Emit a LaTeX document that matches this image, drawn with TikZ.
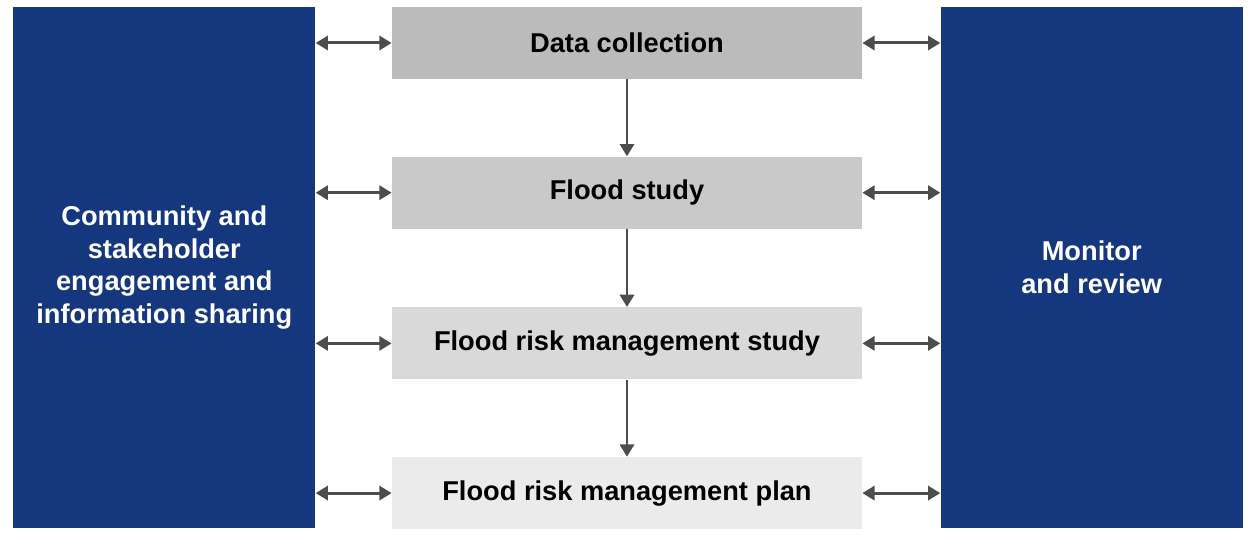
\documentclass[tikz,border=0pt]{standalone}
\usepackage{fontspec}
\setmainfont{Liberation Sans}
\usetikzlibrary{positioning,arrows.meta}

\definecolor{floodBlue}{HTML}{14377D}
\definecolor{stageOne}{HTML}{BBBBBB}
\definecolor{stageTwo}{HTML}{C9C9C9}
\definecolor{stageThree}{HTML}{D9D9D9}
\definecolor{stageFour}{HTML}{EBEBEB}
\definecolor{linkGrey}{HTML}{4D4D4D}

\tikzset{
  stagebox/.style={rectangle, minimum width=9.4cm, minimum height=1.44cm,
    inner sep=0pt, font=\fontsize{15.5}{18}\selectfont\bfseries},
  sidebox/.style={rectangle, fill=floodBlue, text=white, minimum width=6.04cm,
    minimum height=10.42cm, inner sep=0pt, align=center,
    font=\fontsize{15.5}{18.5}\selectfont\bfseries},
  link/.style={linkGrey, line width=1.7pt, -{Triangle[length=7pt,width=8pt]}},
  twoway/.style={linkGrey, line width=1.7pt,
    {Triangle[length=7pt,width=8pt]}-{Triangle[length=7pt,width=8pt]}}
}

\begin{document}
\begin{tikzpicture}
  \useasboundingbox (-12.54,0.86) rectangle (12.56,-9.92);

  % the four stages
  \node[stagebox, fill=stageOne] (data) at (0,0) {Data collection};
  \node[stagebox, fill=stageTwo, below=1.54cm of data] (study) {Flood study};
  \node[stagebox, fill=stageThree, below=1.56cm of study] (frms) {Flood risk management study};
  \node[stagebox, fill=stageFour, below=1.54cm of frms] (frmp) {Flood risk management plan};

  % side panels
  \node[sidebox, left=1.52cm of data.north west, anchor=north east] (engage)
    {Community and\\stakeholder\\engagement and\\information sharing};
  \node[sidebox, right=1.56cm of data.north east, anchor=north west] (monitor)
    {Monitor\\and review};

  \draw[link] (data) -- (study);
  \draw[link] (study) -- (frms);
  \draw[link] (frms) -- (frmp);

  \foreach \stage in {data,study,frms,frmp}{
    \draw[twoway] (engage.east |- \stage.west) -- (\stage.west);
    \draw[twoway] (\stage.east) -- (monitor.west |- \stage.east);
  }
\end{tikzpicture}
\end{document}
